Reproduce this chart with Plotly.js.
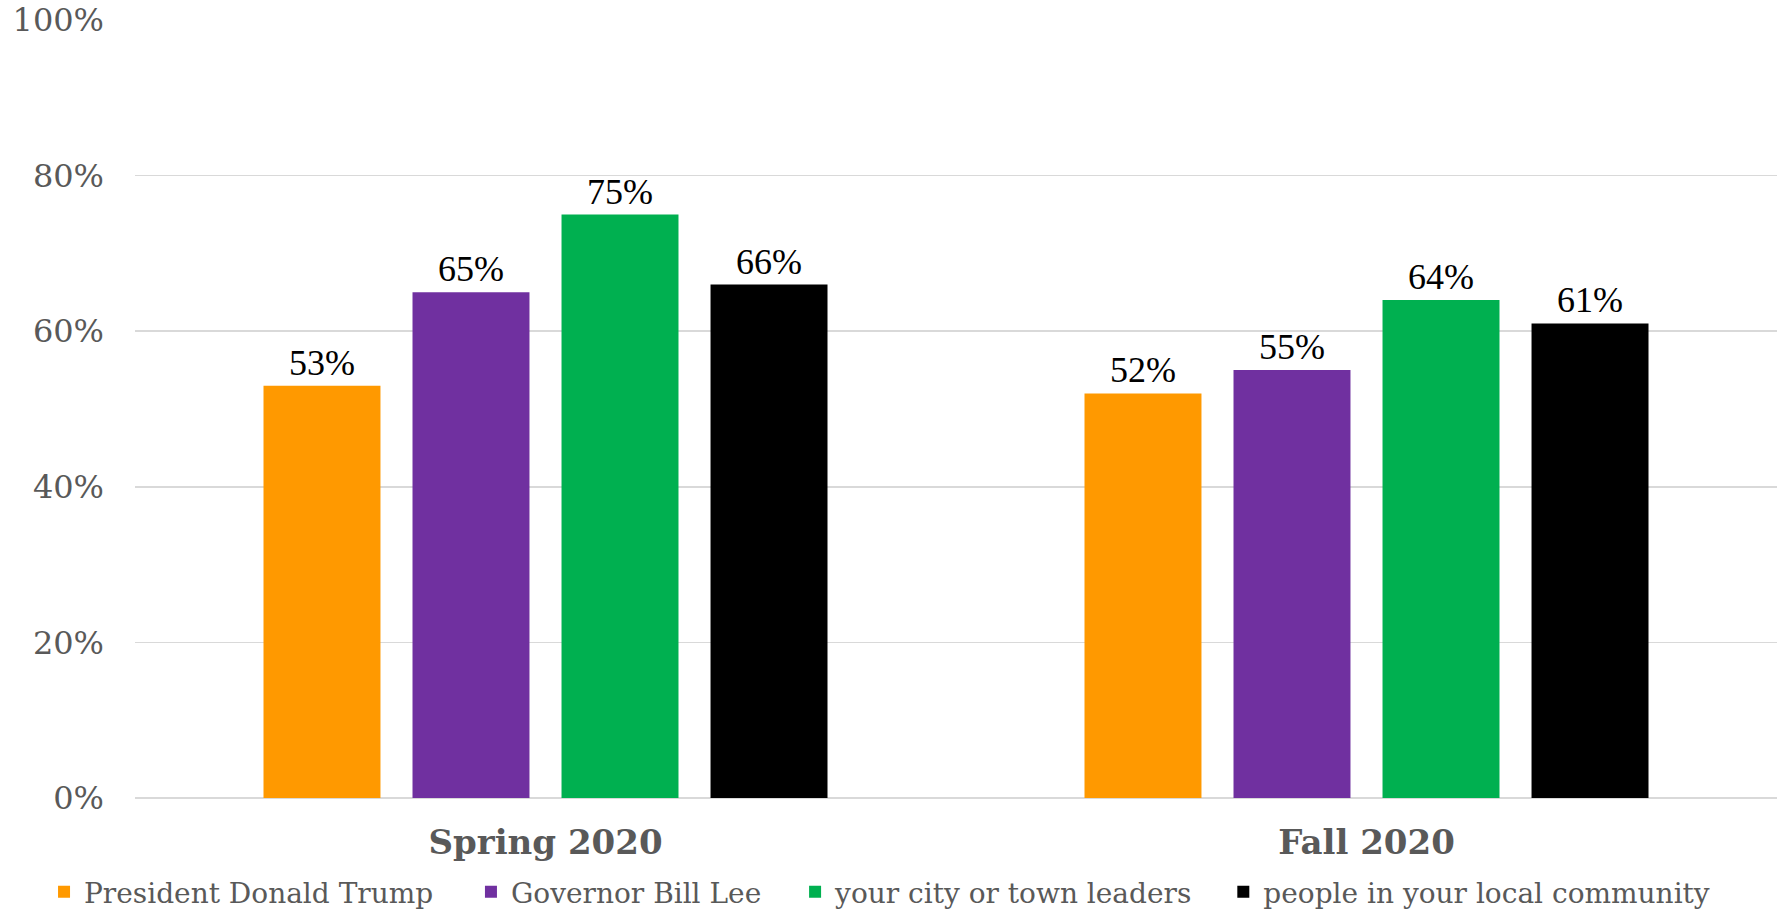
<!DOCTYPE html>
<html>
<head>
<meta charset="utf-8">
<script src="https://cdn.plot.ly/plotly-3.0.1.min.js"></script>
<style>html,body{margin:0;padding:0;background:#fff;}#chart{width:1787px;height:911px;}</style>
</head>
<body>
<div id="chart"></div>
<script>
const categories = ["Spring 2020", "Fall 2020"];
const seriesNames = ["President Donald Trump", "Governor Bill Lee", "your city or town leaders", "people in your local community"];
const trumpValues = [53, 52];
const leeValues = [65, 55];
const cityValues = [75, 64];
const communityValues = [66, 61];
const yTickValues = [0, 20, 40, 60, 80, 100];
const yTickLabels = ["0%", "20%", "40%", "60%", "80%", "100%"];

const colors = ["#FF9900", "#7030A0", "#00B050", "#000000"];
const allValues = [trumpValues, leeValues, cityValues, communityValues];
const legendIds = ["legend", "legend2", "legend3", "legend4"];
const legendX = [-0.0554, 0.2046, 0.402, 0.6628];

const greyFont = "'DejaVu Serif', 'Liberation Serif', serif";
const labelFont = "'Liberation Serif', 'DejaVu Serif', serif";

const traces = allValues.map((vals, i) => ({
  type: "bar",
  name: seriesNames[i],
  x: categories,
  y: vals,
  marker: {color: colors[i], line: {width: 0}},
  text: vals.map(v => v + "%"),
  textposition: "outside",
  textfont: {family: labelFont, size: 36, color: "#000000"},
  cliponaxis: false,
  hoverinfo: "skip",
  legend: legendIds[i]
}));

const layout = {
  width: 1787,
  height: 911,
  margin: {l: 135, r: 10, t: 20, b: 113, autoexpand: false},
  paper_bgcolor: "#ffffff",
  plot_bgcolor: "#ffffff",
  barmode: "group",
  bargap: 0.274,
  bargroupgap: 0.215,
  xaxis: {
    type: "category",
    range: [-0.5, 1.5],
    automargin: false,
    showgrid: false,
    showline: false,
    zeroline: false,
    ticks: "",
    ticklabelstandoff: 21,
    tickfont: {family: greyFont, size: 34, color: "#595959", weight: "bold"}
  },
  yaxis: {
    range: [0, 100],
    automargin: false,
    tickvals: yTickValues,
    ticktext: yTickLabels,
    showgrid: true,
    gridcolor: "#D9D9D9",
    gridwidth: 1.5,
    zeroline: true,
    zerolinecolor: "#D9D9D9",
    zerolinewidth: 1.5,
    showline: false,
    ticks: "",
    ticklabelstandoff: 30,
    tickfont: {family: greyFont, size: 32, color: "#595959"}
  },
  showlegend: true
};

legendIds.forEach((id, i) => {
  layout[id] = {
    orientation: "h",
    x: legendX[i],
    xanchor: "left",
    y: -0.121,
    yanchor: "middle",
    bgcolor: "rgba(0,0,0,0)",
    borderwidth: 0,
    font: {family: greyFont, size: 28, color: "#595959"}
  };
});

Plotly.newPlot("chart", traces, layout, {displayModeBar: false, staticPlot: true});
</script>
</body>
</html>
